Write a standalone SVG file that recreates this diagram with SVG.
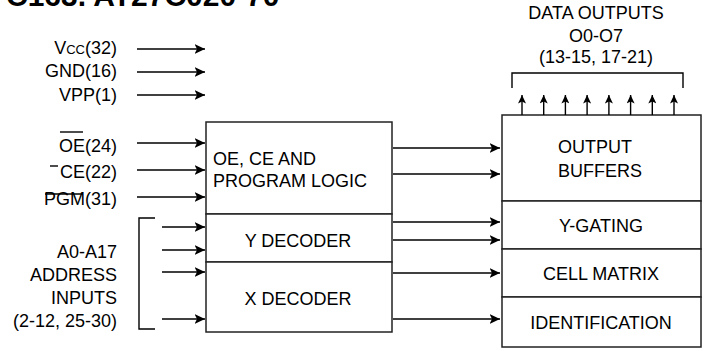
<svg xmlns="http://www.w3.org/2000/svg" width="706" height="351" viewBox="0 0 706 351">
<style>
.t{font-family:"Liberation Sans",Arial,Helvetica,sans-serif;font-size:18px;fill:#000}
.m{text-anchor:middle}
.e{text-anchor:end}
.box{fill:#fff;stroke:#222;stroke-width:1.5}
.ln{stroke:#000;stroke-width:1.4;fill:none}
.c{stroke:#000;stroke-width:1.4;fill:none;marker-end:url(#ah)}
.u{stroke:#000;stroke-width:1.4;fill:none;marker-end:url(#ahs)}
</style>
<defs>
<marker id="ah" markerUnits="userSpaceOnUse" markerWidth="11" markerHeight="10" refX="10.5" refY="5" orient="auto" viewBox="0 0 11 10">
<path d="M0,0 L10.5,5 L0,10 L2.5,5 z" fill="#000"/>
</marker>
<marker id="ahs" markerUnits="userSpaceOnUse" markerWidth="9" markerHeight="8" refX="8.5" refY="4" orient="auto" viewBox="0 0 9 8">
<path d="M0,0 L8.5,4 L0,8 L2,4 z" fill="#000"/>
</marker>
</defs>
<rect width="706" height="351" fill="#fff"/>

<g id="title">
<text class="t" x="6" y="6" style="font-size:30px;font-weight:bold">C163. AT27C020-70</text>
</g>

<g id="power-inputs">
<text class="t e" x="117" y="54">V<tspan style="font-size:13px">CC</tspan>(32)</text>
<text class="t e" x="117" y="77">GND(16)</text>
<text class="t e" x="117" y="101">VPP(1)</text>
</g>

<g id="control-inputs">
<text class="t e" x="117" y="152">OE(24)</text>
<path class="ln" d="M60,132 H83"/>
<text class="t e" x="117" y="178">CE(22)</text>
<path class="ln" d="M50,166 H58"/>
<text class="t e" x="117" y="205">PGM(31)</text>
<path class="ln" d="M45,194 H83"/>
</g>

<g id="address-inputs">
<text class="t e" x="117" y="258">A0-A17</text>
<text class="t e" x="117" y="281">ADDRESS</text>
<text class="t e" x="117" y="304">INPUTS</text>
<text class="t e" x="117" y="327">(2-12, 25-30)</text>
<path class="ln" d="M155,218 H139 V329 H155"/>
</g>

<g id="control-logic">
<rect class="box" x="206" y="122" width="186" height="92"/>
<text class="t" x="213" y="165">OE, CE AND</text>
<text class="t" x="213" y="187">PROGRAM LOGIC</text>
</g>
<g id="y-decoder">
<rect class="box" x="206" y="214" width="186" height="48"/>
<text class="t m" x="298" y="247">Y DECODER</text>
</g>
<g id="x-decoder">
<rect class="box" x="206" y="262" width="186" height="70"/>
<text class="t m" x="298" y="305">X DECODER</text>
</g>

<g id="output-buffers">
<rect class="box" x="502" y="115" width="199" height="86"/>
<text class="t" x="558" y="153">OUTPUT</text>
<text class="t" x="558" y="177">BUFFERS</text>
</g>
<g id="y-gating">
<rect class="box" x="502" y="201" width="199" height="48"/>
<text class="t m" x="601" y="232">Y-GATING</text>
</g>
<g id="cell-matrix">
<rect class="box" x="502" y="249" width="199" height="48"/>
<text class="t m" x="601" y="280">CELL MATRIX</text>
</g>
<g id="identification">
<rect class="box" x="502" y="297" width="199" height="50"/>
<text class="t m" x="601" y="329">IDENTIFICATION</text>
</g>

<g id="data-outputs">
<text class="t m" x="596" y="19">DATA OUTPUTS</text>
<text class="t m" x="596" y="42">O0-O7</text>
<text class="t m" x="596" y="63">(13-15, 17-21)</text>
<path class="ln" d="M512,88 V73 H683 V88"/>
</g>

<g id="connectors">
<path class="c" d="M137,49 H205"/>
<path class="c" d="M137,72 H205"/>
<path class="c" d="M137,95 H205"/>
<path class="c" d="M137,143 H205"/>
<path class="c" d="M137,170 H205"/>
<path class="c" d="M137,197 H205"/>
<path class="c" d="M162,227 H205"/>
<path class="c" d="M162,250 H205"/>
<path class="c" d="M162,272 H205"/>
<path class="c" d="M162,319 H205"/>
<path class="c" d="M393,148 H500"/>
<path class="c" d="M393,174 H500"/>
<path class="c" d="M393,222 H500"/>
<path class="c" d="M393,240 H500"/>
<path class="c" d="M393,273 H500"/>
<path class="c" d="M393,319 H500"/>
<path class="u" d="M522,115 V95"/>
<path class="u" d="M543.7,115 V95"/>
<path class="u" d="M565.4,115 V95"/>
<path class="u" d="M587.1,115 V95"/>
<path class="u" d="M608.9,115 V95"/>
<path class="u" d="M630.6,115 V95"/>
<path class="u" d="M652.3,115 V95"/>
<path class="u" d="M674,115 V95"/>
</g>
</svg>
